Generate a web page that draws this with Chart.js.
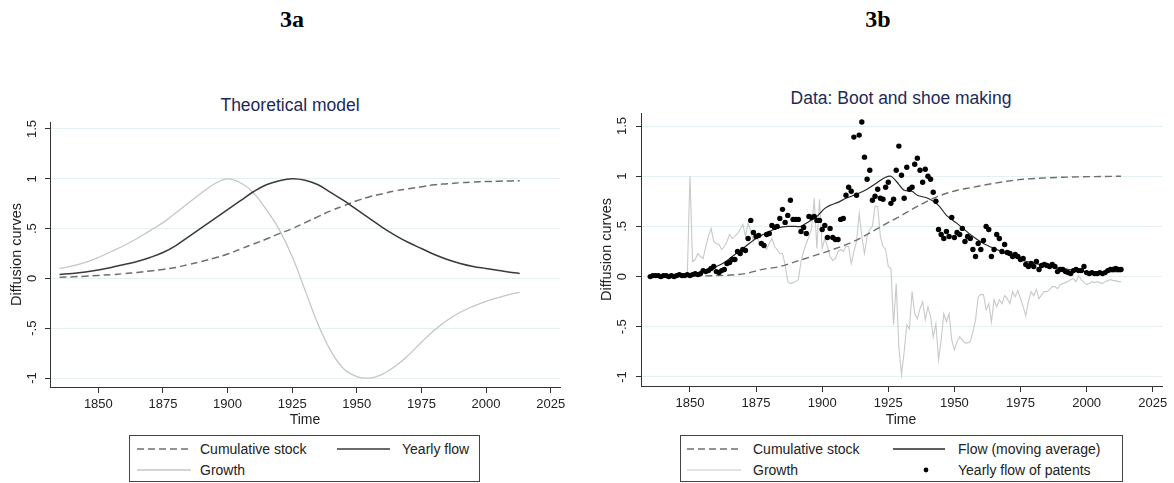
<!DOCTYPE html>
<html>
<head>
<meta charset="utf-8">
<script src="https://cdn.jsdelivr.net/npm/chart.js@4.4.1/dist/chart.umd.min.js"></script>
<style>
  body { margin:0; background:#fff; width:1174px; height:483px; position:relative; overflow:hidden;
         font-family:"Liberation Sans", Arial, sans-serif; }
  .box { position:absolute; }
  .big { position:absolute; top:6px; font:bold 24px "Liberation Serif", "Times New Roman", serif; color:#000;
         transform:translateX(-50%); }
  .ttl { position:absolute; font-size:17.5px; color:#1c2a5a; transform:translate(-50%,-50%); white-space:nowrap; }
  .xt  { position:absolute; font-size:14px; color:#222; transform:translate(-50%,-50%); }
  svg.leg { position:absolute; overflow:visible; }
</style>
</head>
<body>

<div class="big" style="left:292px">3a</div>
<div class="big" style="left:878px">3b</div>
<div class="ttl" style="left:290px;top:105px">Theoretical model</div>
<div class="ttl" style="left:901px;top:98px">Data: Boot and shoe making</div>

<div class="box" style="left:0;top:110px;width:580px;height:305px"><canvas id="c3a"></canvas></div>
<div class="box" style="left:590px;top:101px;width:584px;height:313px"><canvas id="c3b"></canvas></div>

<div class="xt" style="left:305px;top:419px">Time</div>
<div class="xt" style="left:901px;top:419px">Time</div>

<svg class="leg" style="left:129px;top:435px" width="351" height="47">
  <rect x="0.5" y="0.5" width="350" height="46" fill="none" stroke="#444"/>
  <line x1="8" y1="14" x2="62" y2="14" stroke="#6f6f6f" stroke-width="1.5" stroke-dasharray="7,4"/>
  <text x="71" y="19" font-size="14" fill="#222">Cumulative stock</text>
  <line x1="208" y1="14" x2="261" y2="14" stroke="#3a3a3a" stroke-width="1.5"/>
  <text x="273" y="19" font-size="14" fill="#222">Yearly flow</text>
  <line x1="8" y1="35" x2="62" y2="35" stroke="#c6c6c6" stroke-width="1.3"/>
  <text x="71" y="40" font-size="14" fill="#222">Growth</text>
</svg>

<svg class="leg" style="left:680px;top:435px" width="443" height="47">
  <rect x="0.5" y="0.5" width="442" height="46" fill="none" stroke="#444"/>
  <line x1="7" y1="14" x2="61" y2="14" stroke="#6f6f6f" stroke-width="1.5" stroke-dasharray="7,4"/>
  <text x="73" y="19" font-size="14" fill="#222">Cumulative stock</text>
  <line x1="213" y1="14" x2="265" y2="14" stroke="#2a2a2a" stroke-width="1.3"/>
  <text x="278" y="19" font-size="14" fill="#222">Flow (moving average)</text>
  <line x1="7" y1="35" x2="61" y2="35" stroke="#c6c6c6" stroke-width="1.2"/>
  <text x="73" y="40" font-size="14" fill="#222">Growth</text>
  <circle cx="246" cy="35" r="2.4" fill="#000"/>
  <text x="278" y="40" font-size="14" fill="#222">Yearly flow of patents</text>
</svg>

<script>
const FONT = '"Liberation Sans", Arial, sans-serif';

// shared axis ticks
const xTicks = [1850, 1875, 1900, 1925, 1950, 1975, 2000, 2025];
const yTicks = [-1, -0.5, 0, 0.5, 1, 1.5];

// --- 3a: theoretical model (every 5 years) ---
const years3a  = [1835, 1840, 1845, 1850, 1855, 1860, 1865, 1870, 1875, 1880, 1885, 1890, 1895, 1900, 1905,
                  1910, 1915, 1920, 1925, 1930, 1935, 1940, 1945, 1950, 1955, 1960, 1965, 1970, 1975, 1980,
                  1985, 1990, 1995, 2000, 2005, 2010, 2013];
const stock3a  = [0.012, 0.016, 0.022, 0.03, 0.038, 0.048, 0.06, 0.075, 0.09, 0.11, 0.14, 0.17, 0.205, 0.245, 0.295,
                  0.345, 0.395, 0.45, 0.50, 0.56, 0.62, 0.68, 0.73, 0.78, 0.82, 0.85, 0.88, 0.90, 0.92, 0.94,
                  0.95, 0.96, 0.967, 0.972, 0.976, 0.979, 0.98];
const flow3a   = [0.04, 0.05, 0.065, 0.085, 0.11, 0.14, 0.17, 0.21, 0.26, 0.33, 0.42, 0.51, 0.60, 0.69, 0.78,
                  0.87, 0.94, 0.98, 1.0, 0.985, 0.94, 0.86, 0.78, 0.69, 0.60, 0.51, 0.43, 0.36, 0.30, 0.24,
                  0.19, 0.15, 0.12, 0.10, 0.08, 0.06, 0.05];
const growth3a = [0.10, 0.125, 0.16, 0.21, 0.27, 0.33, 0.40, 0.48, 0.56, 0.66, 0.76, 0.86, 0.95, 1.0, 0.96,
                  0.86, 0.69, 0.49, 0.22, -0.12, -0.46, -0.73, -0.91, -0.985, -1.0, -0.96, -0.88, -0.77, -0.64, -0.52,
                  -0.42, -0.34, -0.28, -0.23, -0.19, -0.155, -0.14];

// --- 3b: boot and shoe making ---
const patentFirstYear = 1835;
const patentFlow = [
  0.00, 0.01, 0.01, 0.01, 0.00, 0.01, 0.01, 0.00, 0.01, 0.00,   // 1835-1844
  0.01, 0.02, 0.01, 0.01, 0.02, 0.01, 0.02, 0.03, 0.02, 0.03,   // 1845-1854
  0.06, 0.05, 0.06, 0.08, 0.10, 0.05, 0.04, 0.06, 0.07, 0.13,   // 1855-1864
  0.14, 0.17, 0.17, 0.25, 0.23, 0.27, 0.26, 0.38, 0.56, 0.44,   // 1865-1874
  0.40, 0.41, 0.33, 0.31, 0.42, 0.43, 0.51, 0.49, 0.50, 0.58,   // 1875-1884
  0.67, 0.54, 0.61, 0.76, 0.57, 0.57, 0.57, 0.45, 0.49, 0.43,   // 1885-1894
  0.60, 0.59, 0.60, 0.56, 0.56, 0.47, 0.51, 0.39, 0.48, 0.39,   // 1895-1904
  0.37, 0.37, 0.57, 0.58, 0.81, 0.89, 0.85, 1.39, 0.81, 1.41,   // 1905-1914
  1.54, 1.19, 0.97, 1.06, 0.76, 0.80, 0.87, 0.78, 0.77, 0.89,   // 1915-1924
  0.94, 0.73, 0.77, 1.06, 1.30, 1.01, 0.78, 1.09, 0.87, 0.89,   // 1925-1934
  1.12, 1.18, 1.06, 0.94, 1.07, 1.00, 0.97, 0.84, 0.75, 0.47,   // 1935-1944
  0.42, 0.38, 0.45, 0.40, 0.59, 0.39, 0.44, 0.42, 0.48, 0.35,   // 1945-1954
  0.40, 0.38, 0.27, 0.20, 0.33, 0.27, 0.36, 0.50, 0.47, 0.20,   // 1955-1964
  0.27, 0.42, 0.38, 0.25, 0.32, 0.24, 0.23, 0.20, 0.22, 0.20,   // 1965-1974
  0.17, 0.18, 0.12, 0.10, 0.13, 0.10, 0.15, 0.07, 0.11, 0.12,   // 1975-1984
  0.11, 0.10, 0.12, 0.10, 0.05, 0.07, 0.07, 0.05, 0.04, 0.03,   // 1985-1994
  0.06, 0.07, 0.06, 0.06, 0.10, 0.04, 0.03, 0.04, 0.03, 0.03,   // 1995-2004
  0.04, 0.03, 0.04, 0.06, 0.07, 0.07, 0.08, 0.07, 0.07          // 2005-2013
];

const growthFirstYear = 1849;
const growth3b = [
  0.00,                                                          // 1849
  1.00, 0.15, 0.17, 0.23, 0.20, 0.18, 0.30, 0.40, 0.48, 0.35,    // 1850s
  0.33, 0.32, 0.27, 0.30, 0.35, 0.42, 0.38, 0.40, 0.43, 0.47,    // 1860s
  0.52, 0.40, 0.53, 0.45, 0.35, 0.42, 0.35, 0.33, 0.30, 0.27,    // 1870s
  0.33, 0.38, 0.30, 0.27, 0.23, 0.23, 0.12, -0.05, -0.07, -0.06, // 1880s
  -0.05, -0.03, 0.15, 0.25, 0.33, 0.40, 0.48, 0.78, 0.28, 0.77,  // 1890s
  0.28, 0.38, 0.30, 0.20, 0.16, 0.18, 0.25, 0.27, 0.25, 0.30,    // 1900s
  0.30, 0.13, 0.25, 0.35, 0.63, 0.40, 0.23, 0.40, 0.47, 0.50,    // 1910s
  0.70, 0.70, 0.40, 0.30, 0.27, 0.10, 0.08, -0.48, -0.07, -0.70, // 1920s
  -0.98, -0.75, -0.48, -0.52, -0.15, -0.37, -0.42, -0.32, -0.25, -0.43, // 1930s
  -0.30, -0.40, -0.60, -0.47, -0.83, -0.63, -0.37, -0.45, -0.37, -0.63, // 1940s
  -0.73, -0.65, -0.60, -0.63, -0.66, -0.66, -0.65, -0.55, -0.43, -0.20, // 1950s
  -0.18, -0.18, -0.33, -0.27, -0.45, -0.23, -0.30, -0.23, -0.27, -0.19, // 1960s
  -0.22, -0.27, -0.15, -0.20, -0.14, -0.22, -0.30, -0.39, -0.25, -0.15, // 1970s
  -0.19, -0.13, -0.22, -0.18, -0.15, -0.15, -0.13, -0.10, -0.10, -0.12, // 1980s
  -0.08, -0.07, -0.06, -0.05, -0.03, -0.02, -0.05, 0.01, -0.03, -0.06,  // 1990s
  -0.08, -0.07, -0.05, -0.06, -0.05, -0.06, -0.07, -0.05, -0.04, -0.03, // 2000s
  -0.04, -0.04, -0.05, -0.05                                            // 2010-2013
];

const maYears = [1835, 1850, 1855, 1860, 1863, 1866, 1870, 1875, 1880, 1884, 1887, 1890, 1892, 1895, 1898,
                 1901, 1903, 1906, 1909, 1913, 1917, 1921, 1924, 1926, 1928, 1931, 1934, 1936, 1940, 1944,
                 1947, 1951, 1956, 1961, 1966, 1971, 1976, 1981, 1986, 1991, 2000, 2013];
const maFlow  = [0.01, 0.02, 0.05, 0.10, 0.14, 0.20, 0.28, 0.38, 0.45, 0.49, 0.50, 0.50, 0.50, 0.55, 0.60,
                 0.68, 0.71, 0.74, 0.78, 0.82, 0.87, 0.94, 0.99, 1.00, 0.95, 0.86, 0.85, 0.81, 0.78, 0.71,
                 0.61, 0.53, 0.42, 0.33, 0.27, 0.21, 0.16, 0.13, 0.10, 0.08, 0.05, 0.05];

const stockYears3b = [1835, 1850, 1860, 1871, 1877, 1884, 1890, 1896, 1903, 1911, 1917, 1923, 1930, 1936,
                      1942, 1951, 1957, 1963, 1970, 1976, 1982, 1991, 2013];
const stock3b      = [0.0, 0.005, 0.01, 0.03, 0.07, 0.10, 0.15, 0.20, 0.26, 0.34, 0.42, 0.51, 0.61, 0.70,
                      0.78, 0.86, 0.89, 0.92, 0.95, 0.97, 0.98, 0.99, 1.0];

function pairs(xs, ys) { return ys.map((v, i) => ({ x: xs[i], y: v })); }
function yearly(first, ys) { return ys.map((v, i) => ({ x: first + i, y: v })); }

function fmtY(v) {
  if (v === 0) return '0';
  let s = String(Math.abs(v)).replace(/^0\./, '.');
  return (v < 0 ? '-' : '') + s;
}

// Stata-like vertical y labels and axis title
const stataY = {
  id: 'stataY',
  afterDraw(chart, args, opts) {
    const { ctx, chartArea } = chart;
    const y = chart.scales.y;
    ctx.save();
    ctx.fillStyle = '#222';
    ctx.textAlign = 'center';
    ctx.textBaseline = 'middle';
    ctx.font = '13px ' + FONT;
    y.ticks.forEach(t => {
      ctx.save();
      ctx.translate(chartArea.left - opts.tickOffset, y.getPixelForValue(t.value));
      ctx.rotate(-Math.PI / 2);
      ctx.fillText(fmtY(t.value), 0, 0);
      ctx.restore();
    });
    ctx.font = '14.5px ' + FONT;
    ctx.translate(chartArea.left - opts.titleOffset, (chartArea.top + chartArea.bottom) / 2);
    ctx.rotate(-Math.PI / 2);
    ctx.fillText('Diffusion curves', 0, 0);
    ctx.restore();
  }
};

function scalesFor(xMin, xMax, yMin, yMax, yWidth) {
  return {
    x: {
      type: 'linear', min: xMin, max: xMax,
      afterBuildTicks: s => { s.ticks = xTicks.map(v => ({ value: v })); },
      afterFit: s => { s.height = 28; },
      grid: { drawOnChartArea: false, tickLength: 6, tickColor: '#333' },
      border: { color: '#333', width: 1 },
      ticks: { color: '#222', font: { size: 13, family: FONT }, padding: 4, maxRotation: 0, autoSkip: false,
               callback: v => String(v) }
    },
    y: {
      type: 'linear', min: yMin, max: yMax,
      afterBuildTicks: s => { s.ticks = yTicks.map(v => ({ value: v })); },
      afterFit: s => { s.width = yWidth; },
      grid: { color: '#e6eff1', tickLength: 5, tickColor: '#333' },
      border: { color: '#333', width: 1 },
      ticks: { display: false }
    }
  };
}

const commonOpts = {
  responsive: true, maintainAspectRatio: false, animation: false,
  plugins: { legend: { display: false }, tooltip: { enabled: false } },
  elements: { point: { radius: 0 } }
};

new Chart(document.getElementById('c3a'), {
  type: 'line',
  data: {
    datasets: [
      { data: pairs(years3a, growth3a), borderColor: '#c6c6c6', borderWidth: 1.3, tension: 0.4, order: 3 },
      { data: pairs(years3a, stock3a), borderColor: '#6f6f6f', borderWidth: 1.5, borderDash: [7, 4], tension: 0.4, order: 2 },
      { data: pairs(years3a, flow3a), borderColor: '#3a3a3a', borderWidth: 1.5, tension: 0.4, order: 1 }
    ]
  },
  options: {
    ...commonOpts,
    layout: { padding: { top: 12, right: 20, left: 0, bottom: 0 } },
    scales: scalesFor(1831.3, 2028.6, -1.09, 1.57, 50),
    plugins: { ...commonOpts.plugins, stataY: { tickOffset: 18, titleOffset: 33 } }
  },
  plugins: [stataY]
});

new Chart(document.getElementById('c3b'), {
  type: 'line',
  data: {
    datasets: [
      { data: yearly(growthFirstYear, growth3b), borderColor: '#c9c9c9', borderWidth: 1.1, tension: 0, order: 4 },
      { data: pairs(stockYears3b, stock3b), borderColor: '#6f6f6f', borderWidth: 1.4, borderDash: [7, 4], cubicInterpolationMode: 'monotone', order: 3 },
      { data: pairs(maYears, maFlow), borderColor: '#2a2a2a', borderWidth: 1.2, tension: 0.3, order: 2 },
      { data: yearly(patentFirstYear, patentFlow), showLine: false, pointRadius: 2.7, pointBackgroundColor: '#000',
        pointBorderWidth: 0, order: 1 }
    ]
  },
  options: {
    ...commonOpts,
    layout: { padding: { top: 12, right: 12, left: 0, bottom: 0 } },
    scales: scalesFor(1831.5, 2028.5, -1.09, 1.63, 51),
    plugins: { ...commonOpts.plugins, stataY: { tickOffset: 19, titleOffset: 34 } }
  },
  plugins: [stataY]
});
</script>
</body>
</html>
